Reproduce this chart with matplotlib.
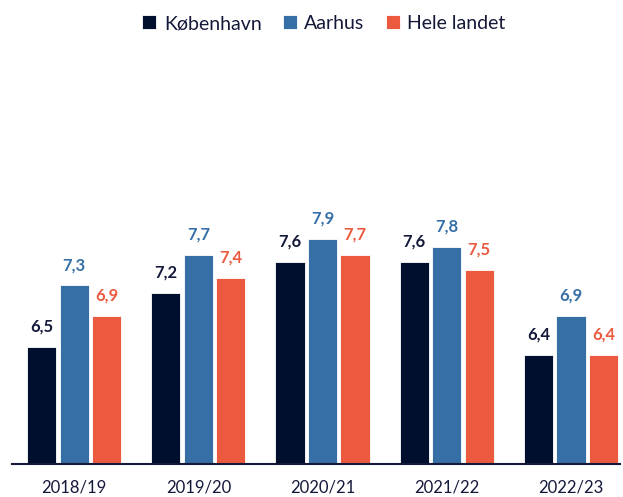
import matplotlib.pyplot as plt
import numpy as np

plt.rcParams["font.family"] = ["Lato", "DejaVu Sans"]

categories = ["2018/19", "2019/20", "2020/21", "2021/22", "2022/23"]
series = ["København", "Aarhus", "Hele landet"]
kobenhavn = [6.5, 7.2, 7.6, 7.6, 6.4]
aarhus = [7.3, 7.7, 7.9, 7.8, 6.9]
hele_landet = [6.9, 7.4, 7.7, 7.5, 6.4]
labels = [
    ["6,5", "7,2", "7,6", "7,6", "6,4"],
    ["7,3", "7,7", "7,9", "7,8", "6,9"],
    ["6,9", "7,4", "7,7", "7,5", "6,4"],
]
colors = ["#000f2e", "#356fa6", "#eb5a3f"]
text_color = "#14193a"

fig = plt.figure(figsize=(6.23, 4.97), dpi=100)
ax = fig.add_axes([12 / 623, 33 / 497, 608 / 623, 364 / 497])

x = np.arange(len(categories))
width = 0.235
offsets = [-0.262, 0, 0.262]
base = 4.98
scale = 77.0  # pixels per unit
for vals, lab, off, col, name in zip(
    [kobenhavn, aarhus, hele_landet], labels, offsets, colors, series
):
    bars = ax.bar(x + off, vals, width, bottom=0, color=col, label=name,
                  edgecolor="white", linewidth=0.6)
    for b, v, t in zip(bars, vals, lab):
        ax.text(b.get_x() + b.get_width() / 2, v + 0.16, t, ha="center",
                va="bottom", fontsize=12, fontweight="bold",
                color=text_color if col == colors[0] else col)

ax.set_ylim(base, base + 364 / scale)
ax.set_xlim(-0.5, 4.395)
ax.set_xticks(x)
ax.set_xticklabels(categories, fontsize=12, color=text_color)
ax.tick_params(axis="x", length=0, pad=11)
ax.set_yticks([])
for s in ["top", "right", "left"]:
    ax.spines[s].set_visible(False)
ax.spines["bottom"].set_color(text_color)
ax.spines["bottom"].set_linewidth(1.5)

fig.legend(loc="upper center", bbox_to_anchor=(0.52, 1.005), ncol=3,
           frameon=False, fontsize=14, handlelength=0.7, handleheight=0.7,
           handletextpad=0.4, columnspacing=1.1, labelcolor=text_color)

fig.savefig("out.png", dpi=100)
